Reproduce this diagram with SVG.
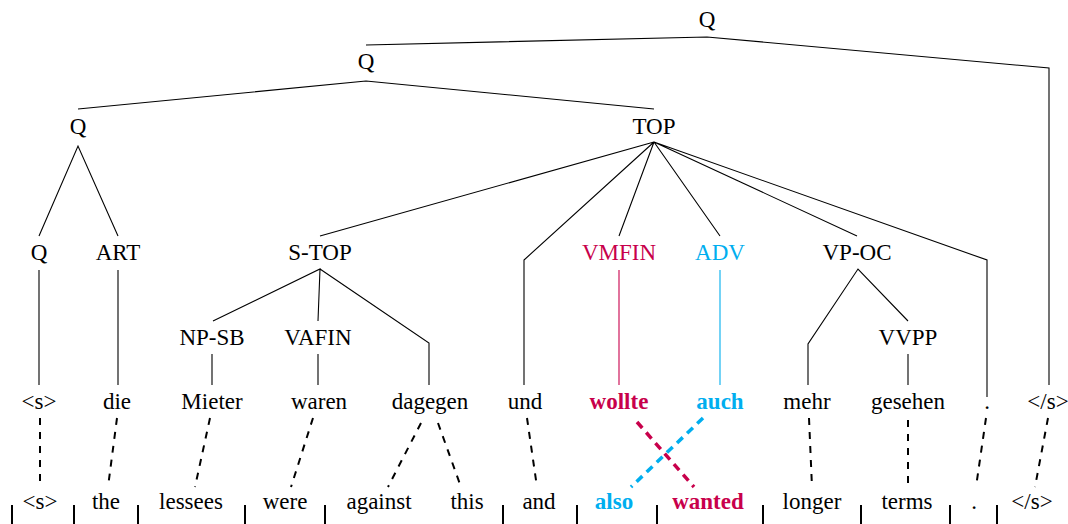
<svg xmlns="http://www.w3.org/2000/svg" width="1068" height="524" viewBox="0 0 1068 524" font-family="'Liberation Serif', 'DejaVu Serif', serif">
<style>
text{font-family:'Liberation Serif','DejaVu Serif',serif;font-size:23px;text-anchor:middle;fill:#000}
.r{fill:#C8004B}
.b{fill:#00AEEF}
.bold{font-weight:bold}
.t{stroke:#000;stroke-width:1.1;fill:none}
.tr{stroke:#C8004B;stroke-width:1.1;fill:none}
.tb{stroke:#00AEEF;stroke-width:1.1;fill:none}
.d{stroke:#000;stroke-width:2;stroke-dasharray:7 7;fill:none}
.dr{stroke:#C8004B;stroke-width:3.5;stroke-dasharray:8 6;fill:none}
.db{stroke:#00AEEF;stroke-width:3.5;stroke-dasharray:8 6;fill:none}
.bar{stroke:#000;stroke-width:2}
</style>
<rect width="1068" height="524" fill="#fff"/>
<g id="connectors">
<path class="t" d="M366,45 L707,37 L1049,68 L1049,385"/>
<path class="t" d="M78,109 L366,81 L654,109"/>
<path class="t" d="M39,236 L78,146 L118,236"/>
<path class="t" d="M320,236 L654,142 M524,385 L524,260 L654,142 L619,236 M654,142 L720,236 M654,142 L857,236 M654,142 L987,260 L987,397"/>
<path class="t" d="M39,270 V385 M118,270 V385"/>
<path class="tr" d="M619,270 V385"/>
<path class="tb" d="M720,270 V385"/>
<path class="t" d="M213,321 L320,269 L318,321 M320,269 L429,343 L429,385"/>
<path class="t" d="M212,354 V385 M318,354 V385"/>
<path class="t" d="M808,385 L808,344 L858,269 L908,321 M908,354 V385"/>
<path class="d" d="M40,418 L40,487 M117,418 L108,487 M210,418 L195,487 M313,418 L291,487 M421,423 L388,487 M438,423 L461,487 M527,418 L537,487 M809,418 L812,487 M908,420 L908,487 M986,418 L976,487 M1048,418 L1035,487"/>
<path class="dr" d="M637,422 L694,487"/>
<path class="db" d="M703,418 L631,487"/>
<path class="bar" d="M12,505 V524 M74,505 V524 M138,505 V524 M245,505 V524 M325,505 V524 M503,505 V524 M577,505 V524 M657,505 V524 M763,505 V524 M861,505 V524 M950,505 V524 M997,505 V524"/>
</g>
<g id="n-q-root"><text x="707" y="27">Q</text></g>
<g id="n-q-2"><text x="366" y="69">Q</text></g>
<g id="n-q-3"><text x="78" y="134">Q</text></g>
<g id="n-top"><text x="654" y="134">TOP</text></g>
<g id="n-q-4"><text x="39" y="260">Q</text></g>
<g id="n-art"><text x="118" y="260">ART</text></g>
<g id="n-s-top"><text x="320" y="260">S-TOP</text></g>
<g id="n-vmfin"><text class="r" x="619" y="260">VMFIN</text></g>
<g id="n-adv"><text class="b" x="720" y="260">ADV</text></g>
<g id="n-vp-oc"><text x="857" y="260">VP-OC</text></g>
<g id="n-np-sb"><text x="212" y="345">NP-SB</text></g>
<g id="n-vafin"><text x="318" y="345">VAFIN</text></g>
<g id="n-vvpp"><text x="908" y="345">VVPP</text></g>
<g id="w-s"><text x="39" y="409">&lt;s&gt;</text></g>
<g id="w-die"><text x="117" y="409">die</text></g>
<g id="w-mieter"><text x="212" y="409">Mieter</text></g>
<g id="w-waren"><text x="319" y="409">waren</text></g>
<g id="w-dagegen"><text x="430" y="409">dagegen</text></g>
<g id="w-und"><text x="525" y="409">und</text></g>
<g id="w-wollte"><text class="r bold" x="619" y="409">wollte</text></g>
<g id="w-auch"><text class="b bold" x="720" y="409">auch</text></g>
<g id="w-mehr"><text x="807" y="409">mehr</text></g>
<g id="w-gesehen"><text x="908" y="409">gesehen</text></g>
<g id="w-dot"><text x="987" y="409">.</text></g>
<g id="w-es"><text x="1048" y="409">&lt;/s&gt;</text></g>
<g id="e-s"><text x="40" y="509">&lt;s&gt;</text></g>
<g id="e-the"><text x="106" y="509">the</text></g>
<g id="e-lessees"><text x="191" y="509">lessees</text></g>
<g id="e-were"><text x="285" y="509">were</text></g>
<g id="e-against"><text x="379" y="509">against</text></g>
<g id="e-this"><text x="467" y="509">this</text></g>
<g id="e-and"><text x="539" y="509">and</text></g>
<g id="e-also"><text class="b bold" x="614" y="509">also</text></g>
<g id="e-wanted"><text class="r bold" x="708" y="509">wanted</text></g>
<g id="e-longer"><text x="812" y="509">longer</text></g>
<g id="e-terms"><text x="907" y="509">terms</text></g>
<g id="e-dot"><text x="974" y="509">.</text></g>
<g id="e-es"><text x="1032" y="509">&lt;/s&gt;</text></g>
</svg>
